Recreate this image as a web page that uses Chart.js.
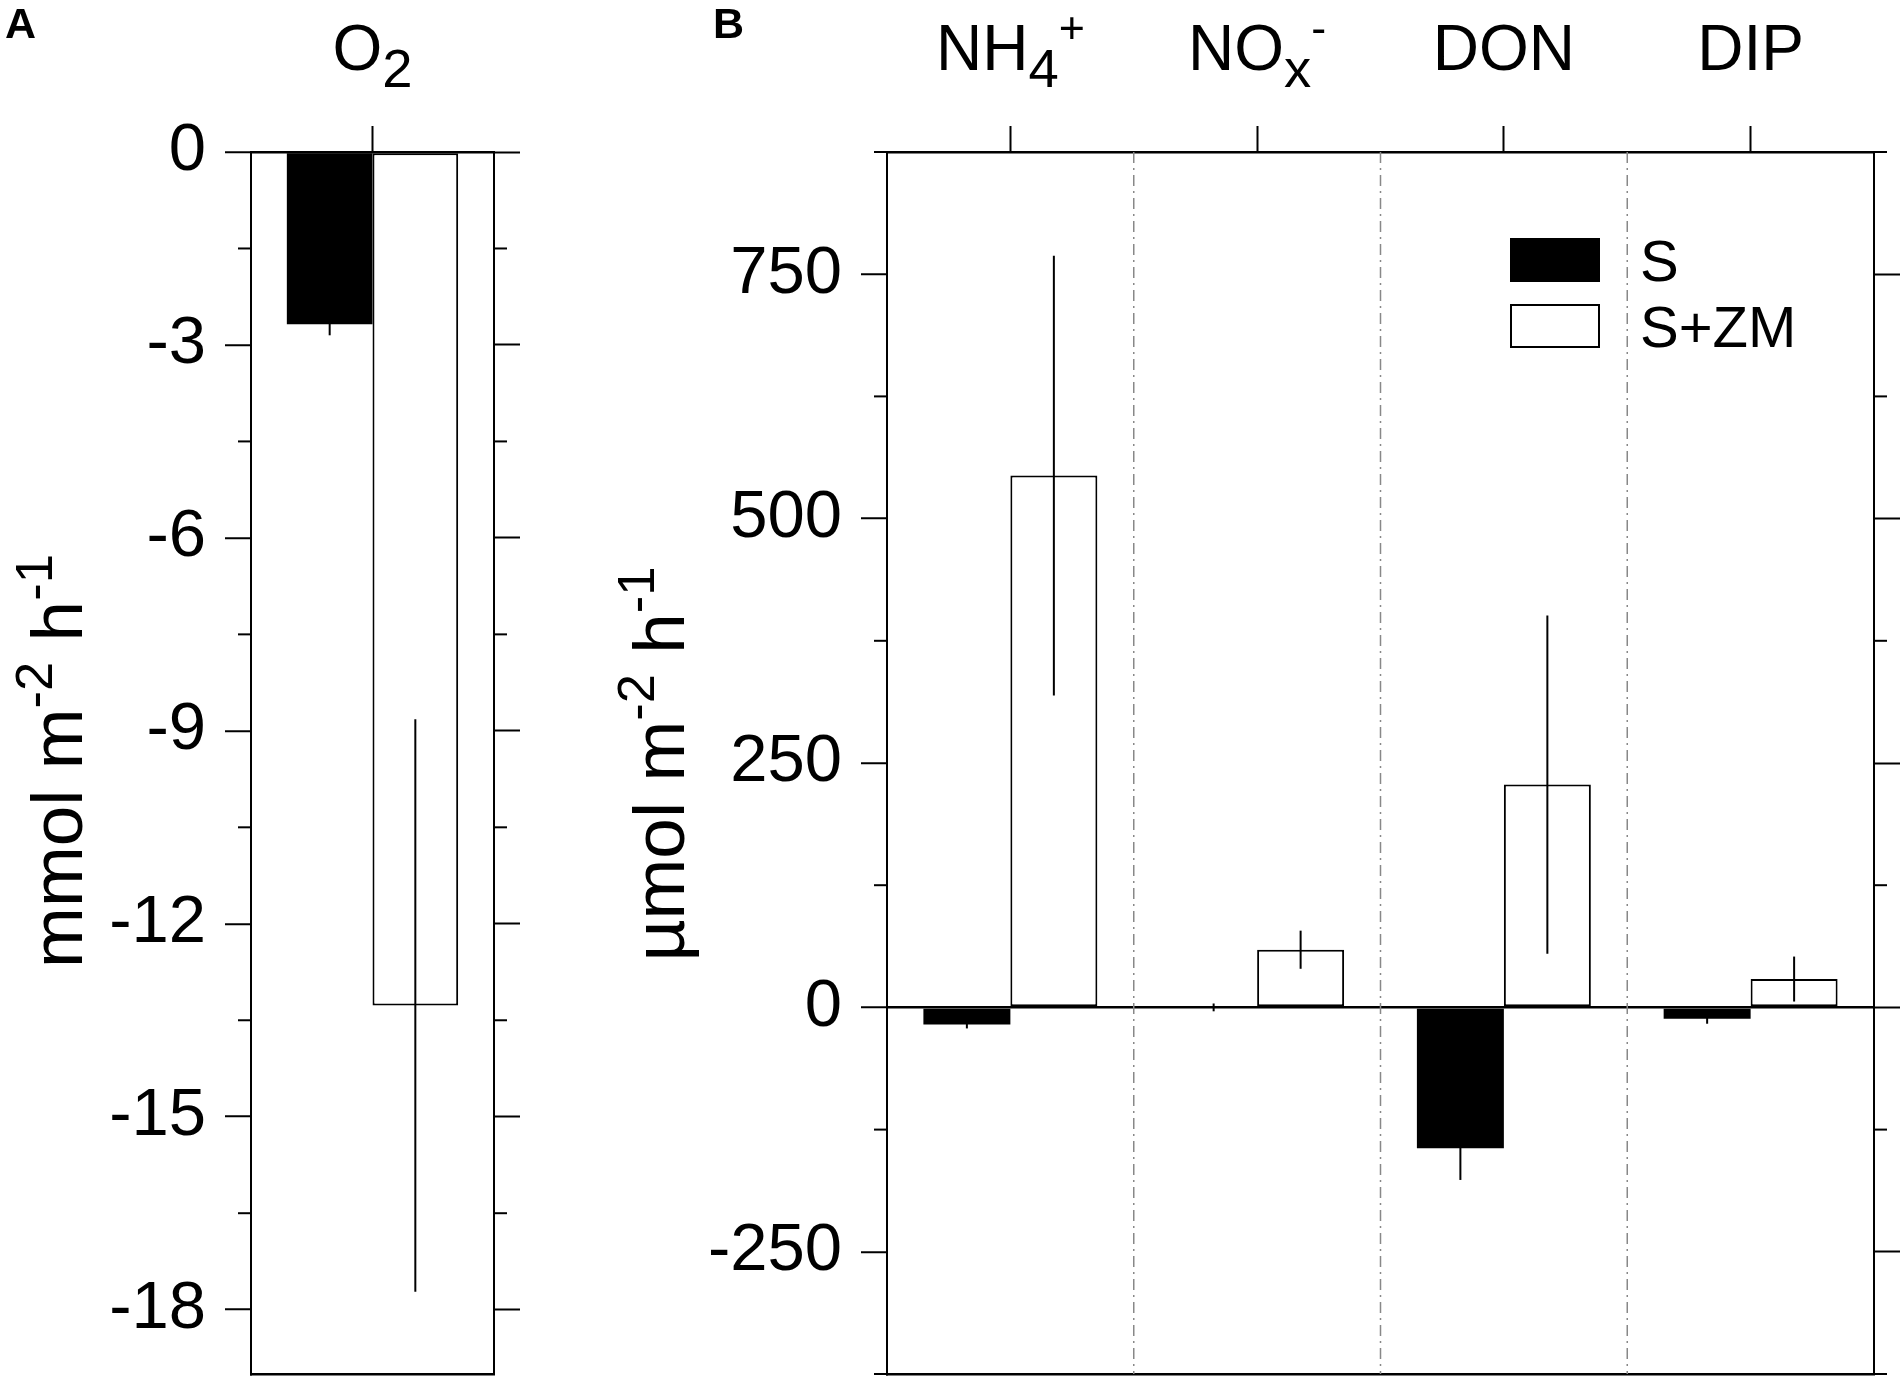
<!DOCTYPE html>
<html lang="en">
<head>
<meta charset="UTF-8" />
<title>O2 and nutrient fluxes, S vs S+ZM</title>
<script src="https://cdn.jsdelivr.net/npm/chart.js"></script>
<style>
  body { margin: 0; background: #fff; overflow: hidden; }
  canvas { position: absolute; top: 0; }
  #chartA { left: 0; }
  #chartB { left: 520px; }
</style>
</head>
<body>

<canvas id="chartA" width="520" height="1383"></canvas>
<canvas id="chartB" width="1383" height="1383"></canvas>

<script>
// Panel A - oxygen flux (mmol m-2 h-1)
const catsA = ['O_2'];
const sA = [-2.68];
const sErrA = [0.17];
const zmA = [-13.27];
const zmErrA = [4.45];
const majorA = [0, -3, -6, -9, -12, -15, -18];
const minorA = [-1.5, -4.5, -7.5, -10.5, -13.5, -16.5];

// Panel B - nutrient fluxes (umol m-2 h-1)
const catsB = ['NH_4^+', 'NO_x^-', 'DON', 'DIP'];
const sB = [-17.5, 0, -144, -11.7];
const sErrB = [4, 4, 32.5, 5];
const zmB = [544, 59, 228, 29];
const zmErrB = [225, 19.5, 173, 23];
const majorB = [750, 500, 250, 0, -250];
const minorB = [875, 625, 375, 125, -125, -375];

const seriesNames = ['S', 'S+ZM'];

const FONT = "'Liberation Sans', Arial, Helvetica, sans-serif";
Chart.defaults.font.family = FONT;
Chart.defaults.color = '#000';

// tiny markup: _x / _{..} subscript, ^x / ^{..} superscript
function parseRich(str) {
  const parts = [];
  const re = /([_^])\{([^}]*)\}|([_^])(.)|([^_^]+)/g;
  let m;
  while ((m = re.exec(str))) {
    if (m[1]) parts.push({ t: m[2], k: m[1] });
    else if (m[3]) parts.push({ t: m[4], k: m[3] });
    else parts.push({ t: m[5], k: '' });
  }
  return parts;
}

function drawRich(ctx, str, cx, baseline, size, o) {
  const parts = parseRich(str);
  const sizeOf = k => k === '_' ? size * o.subScale : k === '^' ? size * o.supScale : size;
  let w = 0;
  parts.forEach(p => {
    ctx.font = sizeOf(p.k) + 'px ' + FONT;
    p.w = ctx.measureText(p.t).width;
    w += p.w;
  });
  let x = cx - w / 2;
  ctx.textAlign = 'left';
  ctx.textBaseline = 'alphabetic';
  parts.forEach(p => {
    ctx.font = sizeOf(p.k) + 'px ' + FONT;
    const dy = p.k === '_' ? o.subDy : p.k === '^' ? -o.supDy : 0;
    ctx.fillText(p.t, x, baseline + dy);
    x += p.w;
  });
}

const catStyle = { subScale: 0.85, subDy: 17, supScale: 0.7, supDy: 27 };
const titleStyle = { subScale: 0.72, subDy: 15, supScale: 0.72, supDy: 30 };

const fixW = w => s => { s.width = w; s.paddingTop = s.paddingBottom = s.paddingLeft = s.paddingRight = 0; };
const fixH = h => s => { s.height = h; s.paddingTop = s.paddingBottom = s.paddingLeft = s.paddingRight = 0; };

function line(ctx, x1, y1, x2, y2) {
  ctx.beginPath();
  ctx.moveTo(x1, y1);
  ctx.lineTo(x2, y2);
  ctx.stroke();
}

function buildPanel(id, p) {
  const decor = {
    id: 'decor',
    beforeDatasetsDraw(chart) {
      if (!p.separators) return;
      const { ctx, chartArea } = chart;
      const xs = chart.scales.x;
      ctx.save();
      ctx.strokeStyle = '#888';
      ctx.lineWidth = 1.5;
      ctx.setLineDash([11, 5, 2, 5]);
      for (let i = 0; i < p.cats.length - 1; i++) {
        const bx = (xs.getPixelForTick(i) + xs.getPixelForTick(i + 1)) / 2;
        line(ctx, bx, chartArea.top, bx, chartArea.bottom);
      }
      ctx.restore();
    },
    afterDatasetsDraw(chart) {
      const { ctx } = chart;
      const ys = chart.scales.y;
      ctx.save();
      ctx.strokeStyle = '#000';
      ctx.lineWidth = 2;
      chart.data.datasets.forEach((ds, di) => {
        chart.getDatasetMeta(di).data.forEach((bar, j) => {
          const v = ds.data[j], e = ds.errors[j];
          line(ctx, bar.x, ys.getPixelForValue(v + e), bar.x, ys.getPixelForValue(v - e));
        });
      });
      ctx.restore();
    },
    afterDraw(chart) {
      const { ctx, chartArea } = chart;
      const ys = chart.scales.y;
      const xs = chart.scales.x;
      ctx.save();
      // minor ticks, both sides
      ctx.strokeStyle = '#000';
      ctx.lineWidth = 2;
      p.minor.forEach(v => {
        const py = ys.getPixelForValue(v);
        line(ctx, chartArea.left - 13, py, chartArea.left, py);
        line(ctx, chartArea.right, py, chartArea.right + 13, py);
      });
      // category labels on top
      ctx.fillStyle = '#000';
      p.cats.forEach((c, i) => drawRich(ctx, c, xs.getPixelForTick(i), 70, 64, catStyle));
      // y axis title
      ctx.save();
      ctx.translate(p.titleX, p.titleY);
      ctx.rotate(-Math.PI / 2);
      drawRich(ctx, p.title, 0, 0, 73, titleStyle);
      ctx.restore();
      // panel letter
      ctx.font = 'bold 43px ' + FONT;
      ctx.textAlign = 'left';
      ctx.textBaseline = 'alphabetic';
      ctx.fillText(p.panel, p.panelX, 38);
      // legend
      if (p.legend) {
        const L = p.legend;
        chart.data.datasets.forEach((ds, i) => {
          const top = L.y + i * L.gap;
          ctx.fillStyle = ds.backgroundColor;
          ctx.fillRect(L.x, top, L.w, L.h);
          if (ds.borderWidth) {
            ctx.strokeStyle = ds.borderColor;
            ctx.lineWidth = ds.borderWidth;
            ctx.strokeRect(L.x + 1, top + 1, L.w - 2, L.h - 2);
          }
          ctx.fillStyle = '#000';
          ctx.font = '58px ' + FONT;
          ctx.fillText(ds.label, L.x + L.w + 40, top + L.h - 1);
        });
      }
      ctx.restore();
    }
  };

  const yGrid = {
    drawOnChartArea: !!p.zeroLine,
    color: c => (c.tick && c.tick.value === 0) ? '#000' : 'rgba(0,0,0,0)',
    lineWidth: 2.5,
    drawTicks: true,
    tickLength: 26,
    tickWidth: 2,
    tickColor: '#000'
  };

  return new Chart(document.getElementById(id), {
    type: 'bar',
    data: {
      labels: p.cats,
      datasets: [
        { label: seriesNames[0], data: p.s, errors: p.sErr, backgroundColor: '#000', borderWidth: 0 },
        { label: seriesNames[1], data: p.zm, errors: p.zmErr, backgroundColor: '#fff',
          borderColor: '#000', borderWidth: 2, borderSkipped: false }
      ]
    },
    options: {
      responsive: false,
      animation: false,
      events: [],
      layout: { padding: 0 },
      datasets: { bar: { barPercentage: 1, categoryPercentage: 0.705 } },
      plugins: { legend: { display: false }, tooltip: { enabled: false } },
      scales: {
        x: {
          type: 'category', position: 'top', offset: true,
          grid: { display: true, offset: false, drawOnChartArea: false, drawTicks: true,
                  tickLength: 26, tickWidth: 2, tickColor: '#000' },
          border: { display: true, color: '#000', width: 2.5 },
          ticks: { display: false },
          afterFit: fixH(152)
        },
        x2: {
          type: 'category', position: 'bottom', offset: true,
          grid: { display: true, drawOnChartArea: false, drawTicks: false },
          border: { display: true, color: '#000', width: 2.5 },
          ticks: { display: false },
          afterFit: fixH(9)
        },
        y: {
          position: 'left', min: p.min, max: p.max,
          afterBuildTicks: s => { s.ticks = p.major.map(v => ({ value: v })); },
          ticks: { font: { size: 67 }, color: '#000', padding: 19, callback: v => String(v) },
          grid: yGrid,
          border: { display: true, color: '#000', width: 2 },
          afterFit: fixW(p.leftW)
        },
        y2: {
          position: 'right', min: p.min, max: p.max,
          afterBuildTicks: s => { s.ticks = p.major.map(v => ({ value: v })); },
          ticks: { display: false },
          grid: { drawOnChartArea: false, drawTicks: true, tickLength: 26, tickWidth: 2, tickColor: '#000' },
          border: { display: true, color: '#000', width: 2 },
          afterFit: fixW(p.rightW)
        }
      }
    },
    plugins: [decor]
  });
}

buildPanel('chartA', {
  cats: catsA, s: sA, sErr: sErrA, zm: zmA, zmErr: zmErrA,
  min: -19, max: 0, major: majorA, minor: minorA,
  leftW: 251, rightW: 26,
  title: 'mmol m^{-2} h^{-1}', titleX: 82, titleY: 761,
  panel: 'A', panelX: 5
});

buildPanel('chartB', {
  cats: catsB, s: sB, sErr: sErrB, zm: zmB, zmErr: zmErrB,
  min: -375, max: 875, major: majorB, minor: minorB,
  leftW: 367, rightW: 29, zeroLine: true, separators: true,
  title: 'µmol m^{-2} h^{-1}', titleX: 164, titleY: 764,
  panel: 'B', panelX: 193,
  legend: { x: 990, y: 238, w: 90, h: 44, gap: 66 }
});
</script>

</body>
</html>
